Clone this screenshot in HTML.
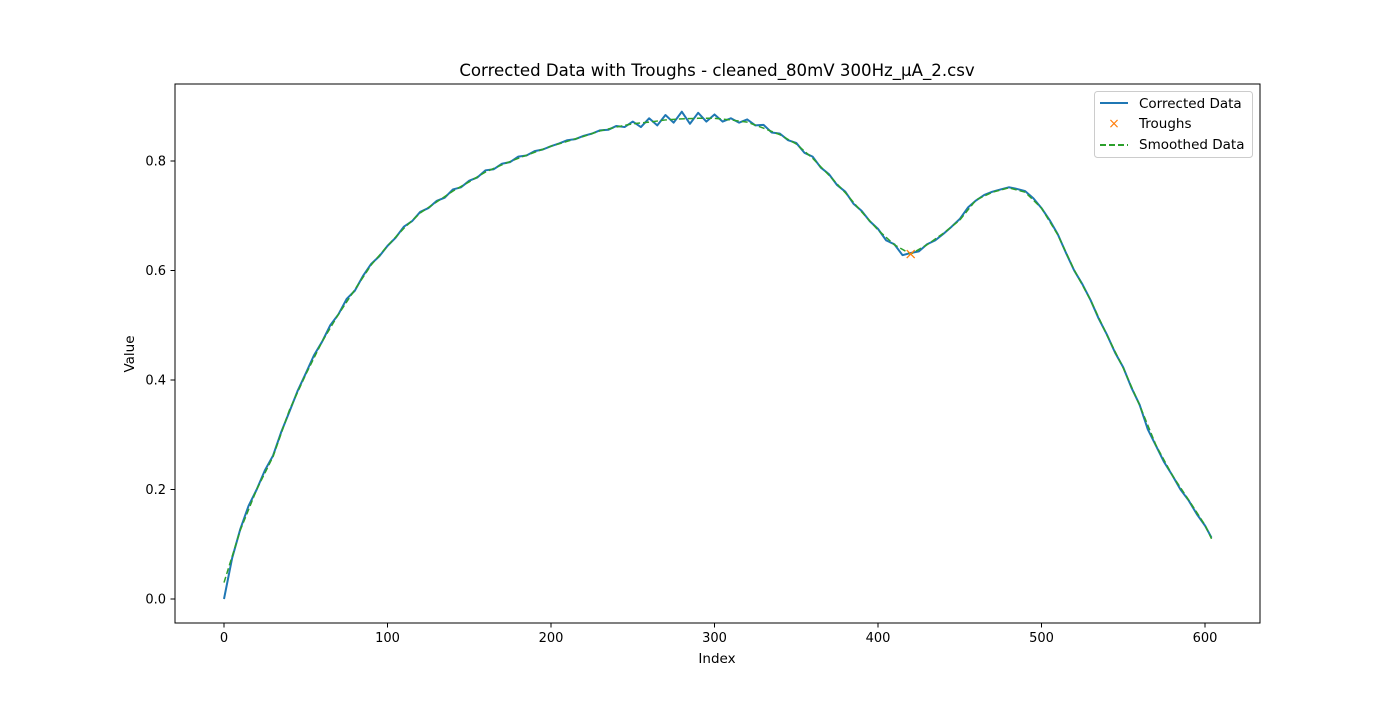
<!DOCTYPE html>
<html><head><meta charset="utf-8"><style>
body{margin:0;background:#fff;font-family:"DejaVu Sans","Liberation Sans",sans-serif}
svg text{font-family:"DejaVu Sans","Liberation Sans",sans-serif;fill:#000}
</style></head><body>
<svg id="chart" width="1400" height="700" xmlns="http://www.w3.org/2000/svg">
<rect x="0" y="0" width="1400" height="700" fill="#fff"/>
<text x="717" y="76" font-size="16.6" text-anchor="middle">Corrected Data with Troughs - cleaned_80mV 300Hz_µA_2.csv</text>
<g id="plot"></g>
<rect x="175" y="84" width="1085" height="539" fill="none" stroke="#000" stroke-width="1"/>
<text x="717" y="663" font-size="13.5" text-anchor="middle">Index</text>
<text x="134" y="354" font-size="13.5" text-anchor="middle" transform="rotate(-90 134 354)">Value</text>
<g>
<rect x="1094.5" y="91.5" width="158" height="66" rx="3" fill="#fff" fill-opacity="0.8" stroke="#ccc"/>
<line x1="1100" y1="103" x2="1128" y2="103" stroke="#1f77b4" stroke-width="2"/>
<text x="1139" y="108" font-size="13.5">Corrected Data</text>
<text x="1114" y="128" font-size="14" fill="#ff7f0e" style="fill:#ff7f0e" text-anchor="middle">×</text>
<text x="1139" y="128" font-size="13.5">Troughs</text>
<line x1="1100" y1="145" x2="1128" y2="145" stroke="#2ca02c" stroke-width="2" stroke-dasharray="6,3"/>
<text x="1139" y="149" font-size="13.5">Smoothed Data</text>
</g>
</svg>
<script>
const corrIdx=[0,5,10,15,20,25,30,35,40,45,50,55,60,65,70,75,80,85,90,95,100,105,110,115,120,125,130,135,140,145,150,155,160,165,170,175,180,185,190,195,200,205,210,215,220,225,230,235,240,245,250,255,260,265,270,275,280,285,290,295,300,305,310,315,320,325,330,335,340,345,350,355,360,365,370,375,380,385,390,395,400,405,410,415,420,425,430,435,440,445,450,455,460,465,470,475,480,485,490,495,500,505,510,515,520,525,530,535,540,545,550,555,560,565,570,575,580,585,590,595,600,604];
const corrVals=[0.0,0.075,0.128,0.17,0.2,0.235,0.262,0.305,0.342,0.38,0.412,0.445,0.47,0.5,0.52,0.548,0.563,0.59,0.612,0.626,0.645,0.66,0.68,0.69,0.707,0.714,0.727,0.733,0.748,0.752,0.764,0.77,0.783,0.785,0.795,0.798,0.808,0.81,0.818,0.821,0.827,0.832,0.838,0.84,0.846,0.85,0.856,0.857,0.864,0.862,0.872,0.862,0.878,0.865,0.884,0.87,0.89,0.868,0.888,0.872,0.885,0.872,0.878,0.87,0.876,0.865,0.866,0.852,0.85,0.838,0.833,0.815,0.808,0.788,0.776,0.756,0.744,0.722,0.709,0.69,0.676,0.655,0.648,0.628,0.632,0.635,0.648,0.655,0.667,0.68,0.694,0.715,0.728,0.738,0.744,0.748,0.752,0.749,0.745,0.732,0.714,0.692,0.666,0.632,0.6,0.575,0.546,0.512,0.483,0.45,0.423,0.386,0.355,0.31,0.28,0.25,0.226,0.2,0.18,0.155,0.134,0.112];
const smIdx=[0,10,20,30,40,50,60,70,80,90,100,110,120,130,140,150,160,170,180,190,200,210,220,230,240,250,260,270,280,290,300,310,320,330,340,350,360,370,380,390,400,410,420,430,440,450,460,470,480,490,500,510,520,530,540,550,560,570,580,590,600,604];
const smVals=[0.03,0.126,0.2,0.26,0.345,0.41,0.47,0.52,0.565,0.61,0.645,0.677,0.705,0.725,0.745,0.762,0.78,0.793,0.805,0.816,0.827,0.836,0.845,0.855,0.862,0.868,0.871,0.875,0.877,0.878,0.878,0.875,0.871,0.86,0.848,0.831,0.805,0.774,0.742,0.707,0.674,0.647,0.63,0.647,0.668,0.692,0.729,0.743,0.751,0.743,0.714,0.665,0.601,0.546,0.482,0.422,0.354,0.281,0.226,0.181,0.135,0.11];
const troughIdx=[420];
const troughVals=[0.63];
const xTicks=[0,100,200,300,400,500,600];
const yTicks=[0.0,0.2,0.4,0.6,0.8];

const X=v=>224+v*1.635;
const Y=v=>599-v*547.5;
const NS='http://www.w3.org/2000/svg';
const g=document.getElementById('plot');
function mk(t,a){const e=document.createElementNS(NS,t);for(const k in a)e.setAttribute(k,a[k]);g.appendChild(e);return e;}
xTicks.forEach(t=>{
  const l=mk('line',{x1:X(t),x2:X(t),y1:623,y2:627.5,stroke:'#000'});
  
  
  const tx=mk('text',{x:X(t),y:642,'font-size':13,'text-anchor':'middle'});
  tx.textContent=t;
  
  
});
yTicks.forEach(t=>{
  const l=mk('line',{x1:170.5,x2:175,y1:Y(t),y2:Y(t),stroke:'#000'});
  
  
  const tx=mk('text',{x:166,y:Y(t)+4.5,'font-size':13,'text-anchor':'end'});
  tx.textContent=t.toFixed(1);
  
  
});
const cp=mk('polyline',{points:corrIdx.map((x,i)=>X(x)+','+Y(corrVals[i])).join(' '),fill:'none',stroke:'#1f77b4','stroke-width':2,'stroke-linejoin':'round'});


const sp=mk('polyline',{points:smIdx.map((x,i)=>X(x)+','+Y(smVals[i])).join(' '),fill:'none',stroke:'#2ca02c','stroke-width':1.5,'stroke-dasharray':'6,3'});


troughIdx.forEach((x,i)=>{
  const cx=X(x),cy=Y(troughVals[i]);
  const p=mk('path',{d:`M${cx-4},${cy-4}L${cx+4},${cy+4}M${cx-4},${cy+4}L${cx+4},${cy-4}`,stroke:'#ff7f0e','stroke-width':1.3});
  
  
});
</script>
</body></html>
